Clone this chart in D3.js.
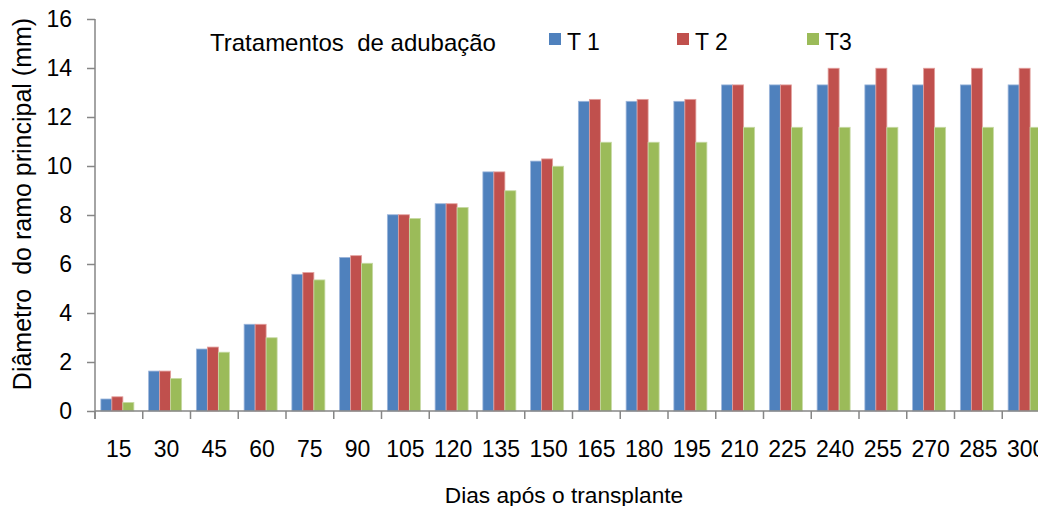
<!DOCTYPE html>
<html>
<head>
<meta charset="utf-8">
<script src="https://cdn.jsdelivr.net/npm/d3@7"></script>
<style>
  html, body { margin: 0; padding: 0; background: #fff; }
  svg { display: block; font-family: "Liberation Sans", Arial, sans-serif; }
  text { white-space: pre; }
</style>
</head>
<body>
<svg id="chart" width="1038" height="506"></svg>
<script>
const days = ["15","30","45","60","75","90","105","120","135","150","165","180","195","210","225","240","255","270","285","300"];
const seriesNames = ["T 1", "T 2", "T3"];
const t1 = [0.49,1.63,2.53,3.54,5.58,6.27,8.01,8.46,9.76,10.20,12.64,12.64,12.64,13.31,13.31,13.31,13.31,13.31,13.31,13.31];
const t2 = [0.58,1.63,2.61,3.54,5.65,6.34,8.01,8.46,9.76,10.29,12.72,12.72,12.72,13.31,13.31,13.99,13.99,13.99,13.99,13.99];
const t3 = [0.35,1.33,2.40,2.99,5.35,6.03,7.86,8.31,8.99,9.99,10.97,10.97,10.97,11.58,11.58,11.58,11.58,11.58,11.58,11.58];
const yTicks = [0,2,4,6,8,10,12,14,16];
const colors = ["#4F81BD", "#C0504D", "#9BBB59"];
const strokes = ["#9DB6DB", "#E3A09E", "#C7DAA5"];

const values = [t1, t2, t3];
const svg = d3.select("#chart");
const axisColor = "#868686";
const fontSize = 23;

const x = d3.scaleBand().domain(days).range([95, 95 + 20 * 47.75]).paddingInner(0).paddingOuter(0);
const xi = d3.scaleBand().domain(seriesNames).range([-1.5, x.bandwidth() - 1.5]).paddingInner(0).paddingOuter(0.67);
const y = d3.scaleLinear().domain([0, 16]).range([411, 19]);

// bars
seriesNames.forEach((s, si) => {
  svg.append("g").selectAll("rect")
    .data(days.map((d, i) => ({ d, v: values[si][i] })))
    .join("rect")
    .attr("x", d => x(d.d) + xi(s))
    .attr("y", d => y(d.v))
    .attr("width", xi.bandwidth())
    .attr("height", d => y(0) - y(d.v))
    .attr("fill", colors[si])
    .attr("stroke", strokes[si])
    .attr("stroke-width", 0.8);
});

// y axis
const yAxis = svg.append("g")
  .attr("transform", "translate(95,0)")
  .call(d3.axisLeft(y).tickValues(yTicks).tickSize(8).tickPadding(15).tickFormat(d3.format("d")));
yAxis.select(".domain").attr("stroke", axisColor).attr("stroke-width", 1.5).attr("d", "M0,19V419");
yAxis.selectAll(".tick line").attr("stroke", axisColor).attr("stroke-width", 1.5);
yAxis.selectAll(".tick text").attr("font-size", fontSize).attr("fill", "#000").attr("font-family", "Liberation Sans, Arial, sans-serif");

// x axis
const xAxis = svg.append("g")
  .attr("transform", "translate(0,411)")
  .call(d3.axisBottom(x).tickSize(0).tickPadding(30));
xAxis.select(".domain").attr("stroke", axisColor).attr("stroke-width", 1.5).attr("d", "M95,0H1050");
xAxis.selectAll(".tick text").attr("font-size", fontSize).attr("fill", "#000").attr("font-family", "Liberation Sans, Arial, sans-serif");
// boundary ticks
svg.append("g").selectAll("line")
  .data(days)
  .join("line")
  .attr("x1", d => x(d)).attr("x2", d => x(d))
  .attr("y1", 411).attr("y2", 419)
  .attr("stroke", axisColor).attr("stroke-width", 1.5);

// axis titles
svg.append("text")
  .attr("transform", "translate(31,204) rotate(-90)")
  .attr("text-anchor", "middle")
  .attr("font-size", 25)
  .attr("fill", "#000")
  .text("Diâmetro  do ramo principal (mm)");

svg.append("text")
  .attr("x", 564).attr("y", 503)
  .attr("text-anchor", "middle")
  .attr("font-size", 22.7)
  .attr("fill", "#000")
  .text("Dias após o transplante");

// legend
svg.append("text")
  .attr("x", 210).attr("y", 51)
  .attr("font-size", 24)
  .attr("fill", "#000")
  .text("Tratamentos  de adubação");

const legX = [549, 677, 807];
seriesNames.forEach((s, i) => {
  svg.append("rect").attr("x", legX[i]).attr("y", 33).attr("width", 12).attr("height", 12).attr("fill", colors[i]);
  svg.append("text").attr("x", legX[i] + 18).attr("y", 50)
    .attr("font-size", fontSize).attr("fill", "#000").text(s);
});
</script>
</body>
</html>
